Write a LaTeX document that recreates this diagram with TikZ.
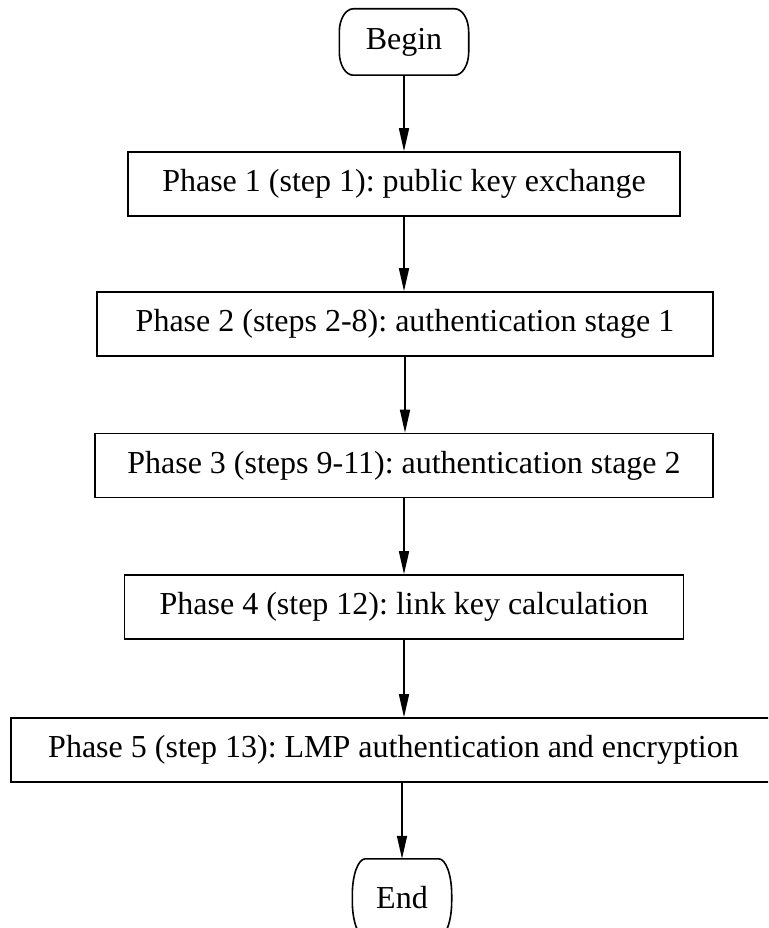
\documentclass[tikz,border=0pt]{standalone}
\usepackage{fontspec}
\setmainfont{Liberation Serif}
\usetikzlibrary{arrows.meta}
\frenchspacing
% outline of a start/stop terminal: a box with elliptical corners
\newcommand{\terminaloutline}[3]{%
  \draw[line width=1.6pt]
    ([xshift=#2]#1.north west) -- ([xshift=-#2]#1.north east)
    arc[start angle=90, end angle=0, x radius=#2, y radius=#3]
    -- ([yshift=#3]#1.south east)
    arc[start angle=0, end angle=-90, x radius=#2, y radius=#3]
    -- ([xshift=#2]#1.south west)
    arc[start angle=-90, end angle=-180, x radius=#2, y radius=#3]
    -- ([yshift=-#3]#1.north west)
    arc[start angle=180, end angle=90, x radius=#2, y radius=#3]
    -- cycle;}
\begin{document}
\begin{tikzpicture}[x=1pt,y=-1pt,
  phasebox/.style={draw, line width=1.6pt, rectangle, minimum height=64pt,
    inner sep=0pt, font=\fontsize{32}{38}\selectfont},
  terminal/.style={rectangle, inner sep=0pt, font=\fontsize{32}{38}\selectfont},
  flow/.style={line width=1.6pt, -{Triangle[length=23pt,width=10pt]}}]
  \useasboundingbox (0,0) rectangle (768,928);
  \clip (0,0) rectangle (768,928);

  \node[terminal, minimum width=129pt, minimum height=66pt] (begin) at (404,42) {Begin};
  \terminaloutline{begin}{14pt}{23pt}
  \node[phasebox, minimum width=552pt] (p1) at (404,184) {Phase 1 (step 1): public key exchange};
  \node[phasebox, minimum width=616pt] (p2) at (405,324) {Phase 2 (steps 2-8): authentication stage 1};
  \node[phasebox, minimum width=618pt] (p3) at (404,465.5) {Phase 3 (steps 9-11): authentication stage 2};
  \node[phasebox, minimum width=559pt] (p4) at (404,607) {Phase 4 (step 12): link key calculation};
  \node[phasebox, minimum width=765pt] (p5) at (393.5,750) {Phase 5 (step 13): LMP authentication and encryption};
  \node[terminal, minimum width=99pt, minimum height=78pt] (end) at (402,898) {End};
  \terminaloutline{end}{13pt}{36pt}

  \draw[flow] (begin.south) -- (begin.south |- p1.north);
  \draw[flow] (p1.south) -- (p1.south |- p2.north);
  \draw[flow] (p2.south) -- (p2.south |- p3.north);
  \draw[flow] (p3.south) -- (p3.south |- p4.north);
  \draw[flow] (p4.south) -- (p4.south |- p5.north);
  \draw[flow] (end.north |- p5.south) -- (end.north);
\end{tikzpicture}
\end{document}
